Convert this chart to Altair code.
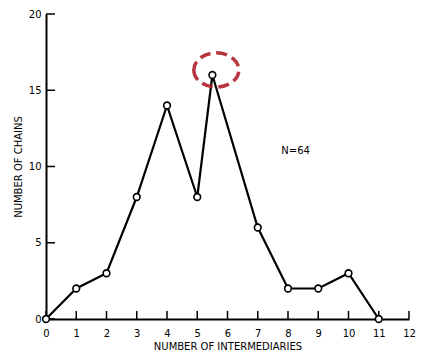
import altair as alt
import pandas as pd

# data
intermediaries = [0, 1, 2, 3, 4, 5, 5.5, 7, 8, 9, 10, 11]
chains = [0, 2, 3, 8, 14, 8, 16, 6, 2, 2, 3, 0]
x_ticks = list(range(0, 13))
y_ticks = [0, 5, 10, 15, 20]
highlight = {"x": 5.63, "y": 16.33}
note = {"x": 8.25, "y": 11.0, "text": "N=64"}

FONT = "DejaVu Sans"
W, H = 363, 305
df = pd.DataFrame({"x": intermediaries, "y": chains})

xs = alt.Scale(domain=[0, 12], nice=False, zero=False)
ys = alt.Scale(domain=[0, 20], nice=False, zero=False)

common = dict(tickSize=0, ticks=False, domainColor="black", domainWidth=2, grid=False,
              labelFont=FONT, labelFontSize=10, labelColor="black",
              titleFont=FONT, titleFontSize=10, titleColor="black",
              titleFontWeight="normal", labelOverlap=False, labelFlush=False)
xaxis = alt.Axis(values=x_ticks, title="NUMBER OF INTERMEDIARIES",
                 labelPadding=9, titlePadding=3, **common)
yaxis = alt.Axis(values=y_ticks, title="NUMBER OF CHAINS",
                 labelPadding=5, titlePadding=5, **common)


def X(field):
    return alt.X(field, type="quantitative", scale=xs, axis=xaxis)


def Y(field):
    return alt.Y(field, type="quantitative", scale=ys, axis=yaxis)


base = alt.Chart(df)

line = base.mark_line(color="black", strokeWidth=2.2).encode(x=X("x"), y=Y("y"))
pts = base.mark_point(shape="circle", filled=True, fill="white", stroke="black",
                      strokeWidth=1.6, size=45, opacity=1).encode(x=X("x"), y=Y("y"))

xt_df = pd.DataFrame({"x": x_ticks})
yt_df = pd.DataFrame({"y": y_ticks})

# inward tick marks
xt = alt.Chart(xt_df).mark_tick(color="black", orient="vertical", size=8,
                                thickness=1.5, opacity=1).encode(
    x=X("x"), y=alt.value(H - 4))
yt = alt.Chart(yt_df).mark_tick(color="black", orient="horizontal", size=9,
                                thickness=1.5, opacity=1).encode(
    y=Y("y"), x=alt.value(4.5))

ellipse = "M -1 0 A 1 0.76 0 1 0 1 0 A 1 0.76 0 1 0 -1 0 Z"
ring = alt.Chart(pd.DataFrame([highlight])).mark_point(
    shape=ellipse, filled=False, stroke="#b0202a", strokeWidth=3.5, size=2025,
    strokeDash=[11, 5.5], opacity=0.9).encode(x=X("x"), y=Y("y"))

txt = alt.Chart(pd.DataFrame([note])).mark_text(
    font=FONT, fontSize=10, color="black").encode(x=X("x"), y=Y("y"), text="text:N")

chart = alt.layer(line, xt, yt, pts, ring, txt).properties(
    width=W, height=H,
    autosize=alt.AutoSizeParams(type="none"),
    padding={"left": 38, "top": 6, "right": 7, "bottom": 31},
    background="white",
).configure_view(stroke=None)

chart.save("out.html", embed_options={"renderer": "svg", "actions": False})
